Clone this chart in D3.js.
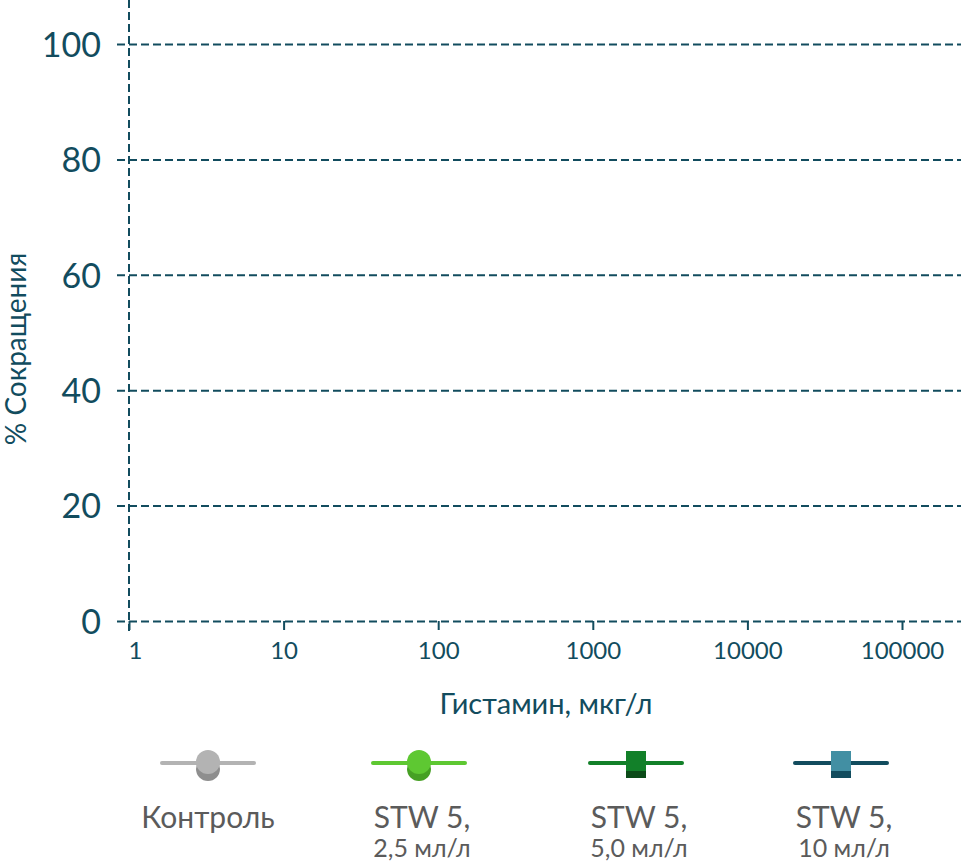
<!DOCTYPE html>
<html>
<head>
<meta charset="utf-8">
<script src="https://cdn.jsdelivr.net/npm/d3@7"></script>
<style>
  html, body { margin: 0; padding: 0; background: #fff; }
  svg { display: block; font-family: Lato, "Noto Sans", sans-serif; }
</style>
</head>
<body>
<svg id="chart" width="961" height="861"></svg>
<script>
// ---- data ----
const xTickValues = [1, 10, 100, 1000, 10000, 100000];
const xTickLabels = ["1", "10", "100", "1000", "10000", "100000"];
const yTickValues = [0, 20, 40, 60, 80, 100];
const yTickLabels = ["0", "20", "40", "60", "80", "100"];
const seriesNames = ["Контроль", "STW 5,", "STW 5,", "STW 5,"];
const seriesSubNames = ["", "2,5 мл/л", "5,0 мл/л", "10 мл/л"];
const seriesMarkers = ["circle", "circle", "square", "square"];
const seriesLineColors = ["#b3b3b3", "#5ec832", "#128029", "#124c5e"];
const seriesTopColors = ["#b3b3b3", "#5ec832", "#128029", "#428fa3"];
const seriesBottomColors = ["#8e8e8e", "#46a024", "#0b4a18", "#124c5e"];
// series values (the reference chart shows no plotted points)
const seriesControl = [];
const seriesStw25 = [];
const seriesStw50 = [];
const seriesStw10 = [];
const seriesValues = [seriesControl, seriesStw25, seriesStw50, seriesStw10];
const xTitle = "Гистамин, мкг/л";
const yTitle = "% Сокращения";

// ---- layout ----
const axisColor = "#124c5e";
const svg = d3.select("#chart");
const x = d3.scaleLog().domain([1, 100000]).range([129, 902]);
const y = d3.scaleLinear().domain([0, 100]).range([621, 44]);

// horizontal grid lines (y axis with long ticks)
const yAxis = d3.axisLeft(y)
  .tickValues(yTickValues)
  .tickFormat((d, i) => yTickLabels[i])
  .tickSize(-(961 - 117))
  .tickPadding(0);
const gY = svg.append("g").attr("transform", "translate(117,0)").call(yAxis);
gY.select(".domain").remove();
gY.selectAll(".tick line")
  .attr("stroke", axisColor).attr("stroke-width", 2).attr("stroke-dasharray", "8,4");
gY.selectAll(".tick text")
  .attr("x", -16).attr("dy", "0.36em")
  .attr("fill", axisColor).style("font-size", "34px").style("font-family", "Lato");

// vertical dashed axis line
svg.append("line")
  .attr("x1", x(1)).attr("x2", x(1)).attr("y1", 0).attr("y2", 631)
  .attr("stroke", axisColor).attr("stroke-width", 2).attr("stroke-dasharray", "8,4");

// x axis
const xAxis = d3.axisBottom(x)
  .tickValues(xTickValues)
  .tickFormat((d, i) => xTickLabels[i])
  .tickSize(9)
  .tickPadding(12);
const gX = svg.append("g").attr("transform", "translate(0,621)").call(xAxis);
gX.select(".domain").remove();
gX.selectAll(".tick line").attr("stroke", axisColor).attr("stroke-width", 2);
gX.selectAll(".tick text")
  .attr("fill", axisColor).style("font-size", "24px").style("font-family", "Lato")
  .attr("dx", (d, i) => i === 0 ? 6 : 0);

// axis titles
svg.append("text")
  .attr("transform", "translate(26,349) rotate(-90)")
  .attr("text-anchor", "middle")
  .attr("fill", axisColor).style("font-size", "28px")
  .text(yTitle);
svg.append("text")
  .attr("x", 546).attr("y", 714)
  .attr("text-anchor", "middle")
  .attr("fill", axisColor).style("font-size", "29px")
  .text(xTitle);

// series lines (empty)
const line = d3.line().x(d => x(d[0])).y(d => y(d[1]));
seriesValues.forEach((vals, i) => {
  if (vals.length) {
    svg.append("path").attr("d", line(vals)).attr("fill", "none")
      .attr("stroke", seriesLineColors[i]).attr("stroke-width", 4);
  }
});

// legend
const legendCenters = [208, 419, 636, 841];
const lg = svg.append("g");
seriesNames.forEach((name, i) => {
  const cx = legendCenters[i];
  const g = lg.append("g").attr("transform", `translate(${cx},0)`);
  g.append("line").attr("x1", -46).attr("x2", 46).attr("y1", 763).attr("y2", 763)
    .attr("stroke", seriesLineColors[i]).attr("stroke-width", 4).attr("stroke-linecap", "round");
  if (seriesMarkers[i] === "circle") {
    g.append("circle").attr("cx", 0).attr("cy", 769).attr("r", 12).attr("fill", seriesBottomColors[i]);
    g.append("circle").attr("cx", 0).attr("cy", 762).attr("r", 12).attr("fill", seriesTopColors[i]);
  } else {
    g.append("rect").attr("x", -10).attr("y", 758).attr("width", 20).attr("height", 20).attr("fill", seriesBottomColors[i]);
    g.append("rect").attr("x", -10).attr("y", 751).attr("width", 20).attr("height", 20).attr("fill", seriesTopColors[i]);
  }
  g.append("text").attr("x", i === 0 ? 0 : 3).attr("y", 828).attr("text-anchor", "middle")
    .attr("fill", "#5b5b5b").style("font-size", "30px").text(name);
  if (seriesSubNames[i]) {
    g.append("text").attr("x", 3).attr("y", 857).attr("text-anchor", "middle")
      .attr("fill", "#5b5b5b").style("font-size", "25px").text(seriesSubNames[i]);
  }
});
</script>
</body>
</html>
